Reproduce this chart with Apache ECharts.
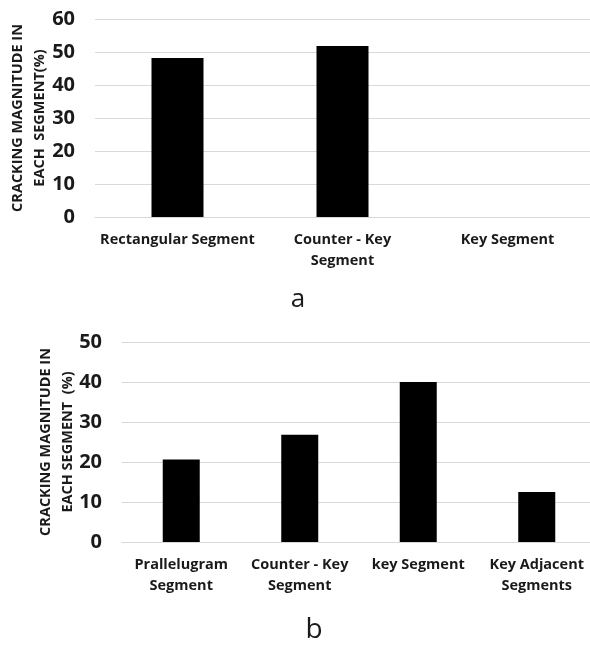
<!DOCTYPE html>
<html>
<head>
<meta charset="utf-8">
<script src="https://cdn.jsdelivr.net/npm/echarts@6/dist/echarts.min.js"></script>
<style>html,body{margin:0;padding:0;background:#fff}#c{width:590px;height:646px}</style>
</head>
<body>
<div id="c"></div>
<script>
const catsA = ['Rectangular Segment', 'Counter - Key\nSegment', 'Key Segment'];
const valsA = [48.2, 51.8, 0];
const ticksA = {min: 0, max: 60, interval: 10};
const catsB = ['Prallelugram\nSegment', 'Counter - Key\nSegment', 'key Segment', 'Key Adjacent\nSegments'];
const valsB = [20.6, 26.8, 40.0, 12.5];
const ticksB = {min: 0, max: 50, interval: 10};
const yNameA = 'CRACKING MAGNITUDE IN\nEACH  SEGMENT(%)';
const yNameB = 'CRACKING MAGNITUDE IN\nEACH SEGMENT  (%)';
const panelA = 'a';
const panelB = 'b';

const FONT = '"Open Sans"';
const TXT = '#1a1a1a';
const GRID = '#d9d9d9';

const chart = echarts.init(document.getElementById('c'), null, {renderer: 'canvas'});

function xAxis(idx, cats) {
  return {
    type: 'category', gridIndex: idx, data: cats,
    axisLine: {show: true, lineStyle: {color: GRID, width: 1}},
    axisTick: {show: false},
    axisLabel: {color: TXT, fontFamily: FONT, fontWeight: 'bold', fontSize: 14.5, lineHeight: 21, margin: 12, interval: 0}
  };
}
function yAxis(idx, t, name, gap) {
  return {
    type: 'value', gridIndex: idx, min: t.min, max: t.max, interval: t.interval,
    name: name, nameLocation: 'middle', nameRotate: 90, nameGap: gap, nameMoveOverlap: false,
    nameTextStyle: {color: TXT, fontFamily: FONT, fontWeight: 'bold', fontSize: 14.5, lineHeight: 22},
    axisLine: {show: false}, axisTick: {show: false},
    splitLine: {show: true, lineStyle: {color: GRID, width: 1}},
    axisLabel: {color: TXT, fontFamily: FONT, fontWeight: 'bold', fontSize: 20, margin: 20}
  };
}

chart.setOption({
  animation: false,
  grid: [
    {left: 95, top: 19, width: 495, height: 198, outerBoundsMode: 'none', containLabel: false},
    {left: 122, top: 342, width: 474, height: 200, outerBoundsMode: 'none', containLabel: false}
  ],
  xAxis: [xAxis(0, catsA), xAxis(1, catsB)],
  yAxis: [yAxis(0, ticksA, yNameA, 44.5), yAxis(1, ticksB, yNameB, 43.5)],
  series: [
    {type: 'bar', xAxisIndex: 0, yAxisIndex: 0, data: valsA, barWidth: 52,
     itemStyle: {color: '#000'}},
    {type: 'bar', xAxisIndex: 1, yAxisIndex: 1, data: valsB, barWidth: 37,
     itemStyle: {color: '#000'}}
  ],
  graphic: [
    {type: 'text', x: 298, y: 300, style: {text: panelA, fill: TXT, font: '26px "Open Sans"', textAlign: 'center', textVerticalAlign: 'middle'}},
    {type: 'text', x: 314, y: 630, style: {text: panelB, fill: TXT, font: '28px "Open Sans"', textAlign: 'center', textVerticalAlign: 'middle'}}
  ]
});
</script>
</body>
</html>
